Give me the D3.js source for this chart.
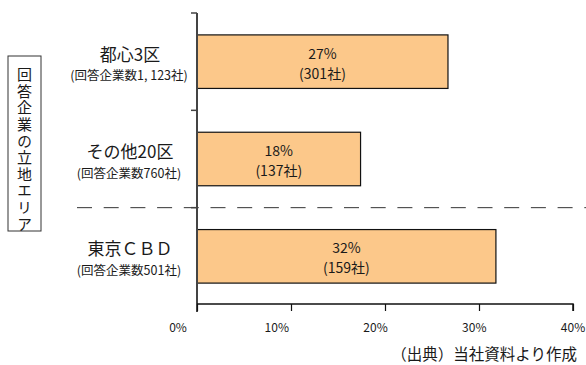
<!DOCTYPE html>
<html>
<head>
<meta charset="utf-8">
<title>回答企業の立地エリア</title>
<script src="https://cdn.jsdelivr.net/npm/d3@7"></script>
<style>
  body { margin: 0; background: #fff; }
  text { font-family: "Noto Sans CJK JP", "Noto Sans", sans-serif; fill: #1a1a1a; }
</style>
</head>
<body>
<div id="chart"></div>
<script>
// data
var categories = ['都心3区', 'その他20区', '東京ＣＢＤ'];
var subLabels = ['(回答企業数1, 123社)', '(回答企業数760社)', '(回答企業数501社)'];
var shares = [26.7, 17.4, 31.8];
var shareLabels = ['27%', '18%', '32%'];
var companyLabels = ['(301社)', '(137社)', '(159社)'];
var xTicks = [0, 10, 20, 30, 40];

var width = 586, height = 365;

var svg = d3.select('#chart').append('svg')
    .attr('width', width)
    .attr('height', height);

var x = d3.scaleLinear().domain([0, 40]).range([197, 573]);
var y = d3.scaleBand().domain(categories).range([13, 305]).padding(0);
var barH = y.bandwidth() * 0.55;

// bars
var bars = svg.selectAll('g.bar')
    .data(categories)
    .enter()
    .append('g')
    .attr('class', 'bar');

bars.append('rect')
    .attr('x', x(0))
    .attr('y', function(d) { return y(d) + (y.bandwidth() - barH) / 2; })
    .attr('width', function(d, i) { return x(shares[i]) - x(0); })
    .attr('height', barH)
    .attr('fill', '#fcc88a')
    .attr('stroke', '#111')
    .attr('stroke-width', 1.2);

bars.append('text')
    .attr('x', function(d, i) { return (x(0) + x(shares[i])) / 2; })
    .attr('y', function(d) { return y(d) + y.bandwidth() / 2 - 3; })
    .attr('text-anchor', 'middle')
    .attr('font-size', 14)
    .text(function(d, i) { return shareLabels[i]; });

bars.append('text')
    .attr('x', function(d, i) { return (x(0) + x(shares[i])) / 2; })
    .attr('y', function(d) { return y(d) + y.bandwidth() / 2 + 17; })
    .attr('text-anchor', 'middle')
    .attr('font-size', 14)
    .text(function(d, i) { return companyLabels[i]; });

// category labels
svg.selectAll('text.cat')
    .data(categories)
    .enter()
    .append('text')
    .attr('class', 'cat')
    .attr('x', 130)
    .attr('y', function(d) { return y(d) + y.bandwidth() / 2 - 1; })
    .attr('text-anchor', 'middle')
    .attr('font-size', 17)
    .text(function(d) { return d; });

svg.selectAll('text.sub')
    .data(subLabels)
    .enter()
    .append('text')
    .attr('class', 'sub')
    .attr('x', 129)
    .attr('y', function(d, i) { return y(categories[i]) + y.bandwidth() / 2 + 18.5; })
    .attr('text-anchor', 'middle')
    .attr('font-size', 12.5)
    .text(function(d) { return d; });

// dashed separator between 23区 and CBD
svg.append('line')
    .attr('x1', 77).attr('x2', width)
    .attr('y1', y(categories[2])).attr('y2', y(categories[2]))
    .attr('stroke', '#333')
    .attr('stroke-width', 1)
    .attr('stroke-dasharray', '15,11.7');

// y axis
var yAxis = svg.append('g');
yAxis.append('line')
    .attr('x1', x(0)).attr('x2', x(0))
    .attr('y1', 13).attr('y2', 312)
    .attr('stroke', '#444')
    .attr('stroke-width', 2);
yAxis.selectAll('line.tick')
    .data(categories.map(function(d) { return y(d); }))
    .enter()
    .append('line')
    .attr('class', 'tick')
    .attr('x1', x(0) - 6).attr('x2', x(0))
    .attr('y1', function(d) { return d; }).attr('y2', function(d) { return d; })
    .attr('stroke', '#444')
    .attr('stroke-width', 1.5);

// x axis
var xAxis = svg.append('g')
    .attr('transform', 'translate(0,304)')
    .call(d3.axisBottom(x).tickValues(xTicks).tickSize(7).tickFormat(''));
xAxis.select('.domain').attr('stroke', '#111').attr('stroke-width', 1.5).attr('d', 'M' + x(0) + ',0H' + x(40) + 'V7');
xAxis.selectAll('.tick line').attr('stroke', '#111').attr('stroke-width', 1.2);

svg.selectAll('text.xlab')
    .data(xTicks)
    .enter()
    .append('text')
    .attr('class', 'xlab')
    .attr('x', function(d) { return x(d) - 19 * (1 - d / 40); })
    .attr('y', 332)
    .attr('text-anchor', 'middle')
    .attr('font-size', 12)
    .attr('font-family', '"Liberation Sans", Arial, sans-serif')
    .text(function(d) { return d + '%'; });

// left boxed vertical title, one text in vertical writing mode
svg.append('rect')
    .attr('x', 8).attr('y', 56)
    .attr('width', 33).attr('height', 175)
    .attr('fill', '#fff')
    .attr('stroke', '#333')
    .attr('stroke-width', 1);
svg.append('text')
    .attr('x', 24.5)
    .attr('y', 67)
    .attr('writing-mode', 'vertical-rl')
    .style('writing-mode', 'vertical-rl')
    .attr('font-size', 15)
    .attr('letter-spacing', 1.6)
    .text('回答企業の立地エリア');

// source note
svg.append('text')
    .attr('x', 577)
    .attr('y', 359.5)
    .attr('text-anchor', 'end')
    .attr('font-size', 15.5)
    .text('（出典）当社資料より作成');
</script>
</body>
</html>
